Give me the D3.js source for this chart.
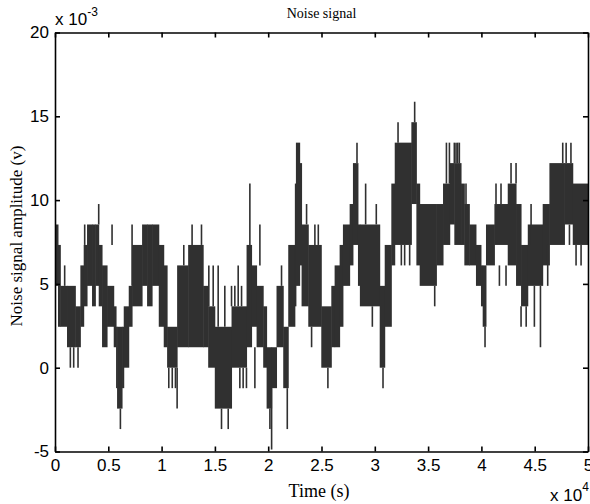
<!DOCTYPE html>
<html>
<head>
<meta charset="utf-8">
<script src="https://cdn.jsdelivr.net/npm/d3@7"></script>
<style>
  body { margin: 0; background: #fff; }
  .tick text { font-family: "Liberation Sans", Arial, sans-serif; font-size: 17px; fill: #000; }
  .serif { font-family: "Liberation Serif", "Times New Roman", serif; fill: #000; }
</style>
</head>
<body>
<div id="chart"></div>
<script>
// quantisation step of the recorded signal (V), read from the stair levels
var lsb = 1.2207e-3;

// dense band of the signal: start time (s), lowest and highest level (in steps)
var bandStart = [0, 281, 500, 1127, 1909, 2379, 2692, 3005, 3474, 3787, 4100, 4413, 4883, 5509, 5728, 5822, 6290, 6448, 6917, 7230,
  8169, 8638, 9108, 9734, 10200, 10517, 11456, 12490, 13900, 14370, 14990, 16560, 17970, 18440, 18910, 19530, 19850, 20320, 20780, 21410,
  21880, 22500, 22600, 22950, 23130, 23760, 24980, 25920, 26230, 26700, 27010, 27640, 27950, 28420, 28600, 30460, 30930, 31550, 31870, 33430,
  33900, 34210, 35780, 36400, 37030, 37460, 38090, 38400, 38870, 39490, 39960, 40120, 40430, 41220, 42470, 43250, 43720, 44350, 45750, 46380,
  47790, 48570];
var bandLow = [4, 2, 2, 1, 1, 2, 3, 4, 3, 4, 3, 1, 2, 1, -1, -2, -1, 0, 2, 3,
  4, 3, 4, 2, 1, 0, 1, 1, 1, 0, -2, 0, 1, 2, 1, 0, -2, -1, 1, -1,
  2, 3, 4, 5, 3, 2, 0, 1, 1, 2, 4, 5, 6, 4, 3, 0, 2, 5, 6, 8,
  5, 4, 5, 6, 7, 6, 6, 5, 5, 4, 3, 2, 5, 6, 5, 4, 3, 4, 5, 6,
  7, 6];
var bandHigh = [7, 6, 4, 4, 3, 5, 6, 7, 7, 7, 6, 5, 4, 3, 2, 2, 2, 3, 4, 6,
  7, 7, 7, 6, 5, 2, 5, 6, 4, 3, 2, 3, 6, 5, 4, 3, 1, 1, 4, 2,
  6, 9, 11, 10, 7, 6, 3, 4, 5, 6, 7, 8, 10, 7, 7, 4, 6, 9, 11, 12,
  9, 8, 8, 9, 10, 10, 9, 8, 7, 6, 5, 5, 7, 8, 9, 8, 6, 7, 8, 10,
  10, 9];
var endTime = 50000;

// isolated spikes: time (s), from level, to level
var spikeTime = [907, 1440, 1753, 2160, 2785, 4100, 5352, 6135, 7230, 10673, 11000, 11300, 11456, 12080, 12860, 13742,
  14430, 14840, 15307, 15620, 15930, 16250, 16560, 16870, 17185, 17340, 17500, 17650, 17960, 18280, 18750, 19220,
  20160, 20320, 21250, 21790, 23600, 24070, 24380, 24700, 25600, 28330, 29140, 29770, 30140, 30770, 32180, 32490,
  32800, 33270, 33740, 35620, 36720, 37000, 37460, 37620, 37770, 37930, 38555, 40340, 41370, 41690, 41840, 42310,
  42780, 43250, 43720, 44200, 44660, 44970, 45540, 46220, 47630, 47950, 48260, 48400, 48880, 49350];
var spikeFrom = [4, 1, 1, 1, 6, 7, 6, -2, 4, 0, 0, 0, 0, 5, 6, 6,
  3, 3, 2, -2, 2, -2, 3, 3, 3, 0, 3, 0, 0, 6, 1, 5,
  -2, -1, 4, -1, 7, 2, 6, 6, 0, 10, 7, 3, 7, 0, 11, 6,
  6, 6, 12, 4, 9, 9, 10, 10, 10, 10, 7, 2, 8, 5, 8, 5,
  9, 9, 3, 3, 6, 4, 4, 6, 10, 10, 7, 10, 6, 6];
var spikeTo = [5, 0, 0, 0, 7, 8, 7, -3, 7, -1, -1, -1, -2, 6, 7, 7,
  5, 5, 5, -3, 4, -3, 4, 4, 5, -1, 4, -1, -1, 9, -1, 7,
  -3, -4, 5, -3, 8, 1, 7, 7, -1, 11, 9, 2, 8, -1, 12, 5,
  5, 5, 13, 3, 11, 11, 11, 11, 11, 11, 9, 1, 9, 4, 9, 4,
  10, 10, 2, 2, 8, 2, 1, 4, 11, 11, 6, 11, 5, 5];

var xTicks = [0, 5000, 10000, 15000, 20000, 25000, 30000, 35000, 40000, 45000, 50000];
var xTickLabels = ["0", "0.5", "1", "1.5", "2", "2.5", "3", "3.5", "4", "4.5", "5"];
var yTicks = [-5e-3, 0, 5e-3, 10e-3, 15e-3, 20e-3];
var yTickLabels = ["-5", "0", "5", "10", "15", "20"];

var svgWidth = 590;
var svgHeight = 504;
var margin = { top: 32.5, right: 2, bottom: 52.5, left: 55 };
var width = svgWidth - margin.left - margin.right;
var height = svgHeight - margin.top - margin.bottom;

var svg = d3.select("#chart")
  .append("svg")
  .attr("width", svgWidth)
  .attr("height", svgHeight);

var chartGroup = svg.append("g")
  .attr("transform", `translate(${margin.left}, ${margin.top})`);

var xScale = d3.scaleLinear().domain([0, 50000]).range([0, width]);
var yScale = d3.scaleLinear().domain([-5e-3, 20e-3]).range([height, 0]);

var signalColor = "#303030";

// bands
var bands = bandStart.map(function(t, i) {
  return { t0: t, t1: i < bandStart.length - 1 ? bandStart[i + 1] : endTime, lo: bandLow[i] * lsb, hi: bandHigh[i] * lsb };
});

chartGroup.selectAll("rect.band")
  .data(bands)
  .enter()
  .append("rect")
  .attr("class", "band")
  .attr("x", d => xScale(d.t0))
  .attr("width", d => xScale(d.t1) - xScale(d.t0) + 0.5)
  .attr("y", d => yScale(d.hi))
  .attr("height", d => yScale(d.lo) - yScale(d.hi))
  .attr("fill", signalColor);

// spikes
var spikes = spikeTime.map(function(t, i) {
  return { t: t, a: spikeFrom[i] * lsb, b: spikeTo[i] * lsb };
});

chartGroup.selectAll("line.spike")
  .data(spikes)
  .enter()
  .append("line")
  .attr("class", "spike")
  .attr("x1", d => xScale(d.t))
  .attr("x2", d => xScale(d.t))
  .attr("y1", d => yScale(d.a))
  .attr("y2", d => yScale(d.b))
  .attr("stroke", signalColor)
  .attr("stroke-width", 1.6);

// axes (MATLAB style box, ticks pointing inward)
var bottomAxis = d3.axisBottom(xScale).tickValues(xTicks)
  .tickFormat((d, i) => xTickLabels[i]).tickSizeInner(-5).tickSizeOuter(0).tickPadding(7);
var topAxis = d3.axisTop(xScale).tickValues(xTicks).tickFormat("").tickSizeInner(-5).tickSizeOuter(0);
var leftAxis = d3.axisLeft(yScale).tickValues(yTicks)
  .tickFormat((d, i) => yTickLabels[i]).tickSizeInner(-5).tickSizeOuter(0).tickPadding(6);
var rightAxis = d3.axisRight(yScale).tickValues(yTicks).tickFormat("").tickSizeInner(-5).tickSizeOuter(0);

function styleAxis(g) {
  g.select(".domain").attr("stroke", "#000").attr("stroke-width", 1.6);
  g.selectAll(".tick line").attr("stroke", "#000").attr("stroke-width", 1.6);
}

chartGroup.append("g").attr("transform", `translate(0, ${height})`).call(bottomAxis).call(styleAxis);
chartGroup.append("g").call(topAxis).call(styleAxis);
chartGroup.append("g").call(leftAxis).call(styleAxis);
chartGroup.append("g").attr("transform", `translate(${width}, 0)`).call(rightAxis).call(styleAxis);

chartGroup.selectAll(".tick text").attr("font-family", null).attr("font-size", null);

// exponent labels
var sans = "'Liberation Sans', Arial, sans-serif";
var expTop = svg.append("text")
  .attr("x", 55).attr("y", 25)
  .attr("font-family", sans).attr("font-size", 17);
expTop.append("tspan").text("x 10");
expTop.append("tspan").attr("dy", -9).attr("font-size", 12).text("-3");

var expBottom = svg.append("text")
  .attr("x", 550).attr("y", 501)
  .attr("font-family", sans).attr("font-size", 17);
expBottom.append("tspan").text("x 10");
expBottom.append("tspan").attr("dy", -10).attr("font-size", 12).text("4");

// title and axis labels
svg.append("text")
  .attr("class", "serif")
  .attr("x", margin.left + width / 2)
  .attr("y", 18)
  .attr("text-anchor", "middle")
  .attr("font-size", 14)
  .text("Noise signal");

svg.append("text")
  .attr("class", "serif")
  .attr("x", 319)
  .attr("y", 497)
  .attr("text-anchor", "middle")
  .attr("font-size", 18)
  .text("Time (s)");

svg.append("text")
  .attr("class", "serif")
  .attr("transform", "translate(22, 236) rotate(-90)")
  .attr("text-anchor", "middle")
  .attr("font-size", 17)
  .text("Noise signal amplitude (v)");
</script>
</body>
</html>
